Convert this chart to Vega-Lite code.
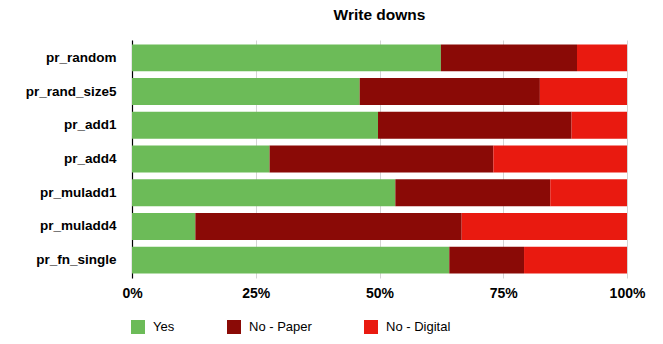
{
  "$schema": "https://vega.github.io/schema/vega-lite/v6.json",
  "width": 495,
  "height": 238,
  "autosize": "none",
  "padding": {"left": 132, "top": 40, "right": 36, "bottom": 66},
  "background": "white",
  "title": {"text": "Write downs", "font": "Liberation Sans", "fontSize": 15.5, "fontWeight": "bold", "color": "#000", "anchor": "middle", "offset": 17},
  "data": {"values": [
    {"test": "pr_random", "answer": "Yes", "k": 0, "pct": 62.4},
    {"test": "pr_random", "answer": "No - Paper", "k": 1, "pct": 27.5},
    {"test": "pr_random", "answer": "No - Digital", "k": 2, "pct": 10.1},
    {"test": "pr_rand_size5", "answer": "Yes", "k": 0, "pct": 46.0},
    {"test": "pr_rand_size5", "answer": "No - Paper", "k": 1, "pct": 36.4},
    {"test": "pr_rand_size5", "answer": "No - Digital", "k": 2, "pct": 17.6},
    {"test": "pr_add1", "answer": "Yes", "k": 0, "pct": 49.7},
    {"test": "pr_add1", "answer": "No - Paper", "k": 1, "pct": 39.1},
    {"test": "pr_add1", "answer": "No - Digital", "k": 2, "pct": 11.2},
    {"test": "pr_add4", "answer": "Yes", "k": 0, "pct": 27.8},
    {"test": "pr_add4", "answer": "No - Paper", "k": 1, "pct": 45.2},
    {"test": "pr_add4", "answer": "No - Digital", "k": 2, "pct": 27.0},
    {"test": "pr_muladd1", "answer": "Yes", "k": 0, "pct": 53.2},
    {"test": "pr_muladd1", "answer": "No - Paper", "k": 1, "pct": 31.3},
    {"test": "pr_muladd1", "answer": "No - Digital", "k": 2, "pct": 15.5},
    {"test": "pr_muladd4", "answer": "Yes", "k": 0, "pct": 12.8},
    {"test": "pr_muladd4", "answer": "No - Paper", "k": 1, "pct": 53.8},
    {"test": "pr_muladd4", "answer": "No - Digital", "k": 2, "pct": 33.4},
    {"test": "pr_fn_single", "answer": "Yes", "k": 0, "pct": 64.1},
    {"test": "pr_fn_single", "answer": "No - Paper", "k": 1, "pct": 15.1},
    {"test": "pr_fn_single", "answer": "No - Digital", "k": 2, "pct": 20.8}
  ]},
  "mark": {"type": "bar"},
  "encoding": {
    "y": {
      "field": "test", "type": "nominal", "sort": null,
      "scale": {"paddingInner": 0.2, "paddingOuter": 0.13},
      "axis": {"title": null, "ticks": false, "domain": true, "domainColor": "#000", "domainWidth": 1.2,
        "labelFont": "Liberation Sans", "labelFontSize": 13.5, "labelFontWeight": "bold", "labelColor": "#000", "labelPadding": 16, "grid": false}
    },
    "x": {
      "field": "pct", "type": "quantitative", "stack": "normalize",
      "scale": {"domain": [0, 1], "nice": false},
      "axis": {"title": null, "values": [0, 0.25, 0.5, 0.75, 1], "format": ".0%", "ticks": false, "domain": false,
        "grid": true, "gridColor": "#d4d4d4", "gridWidth": 1, "labelFlush": false,
        "labelFont": "Liberation Sans", "labelFontSize": 14, "labelFontWeight": "bold", "labelColor": "#000", "labelPadding": 8}
    },
    "color": {
      "field": "answer", "type": "nominal",
      "scale": {"domain": ["Yes", "No - Paper", "No - Digital"], "range": ["#6cbb58", "#8a0a06", "#e91a10"]},
      "legend": {"title": null, "orient": "none", "direction": "horizontal", "legendX": -1, "legendY": 280,
        "symbolType": "square", "symbolSize": 196, "symbolStrokeWidth": 0, "symbolOpacity": 1,
        "labelFont": "Liberation Sans", "labelFontSize": 13, "labelColor": "#000", "labelOffset": 8,
        "columnPadding": 52, "padding": 0}
    },
    "order": {"field": "k", "type": "quantitative"}
  },
  "config": {"view": {"stroke": null}}
}
